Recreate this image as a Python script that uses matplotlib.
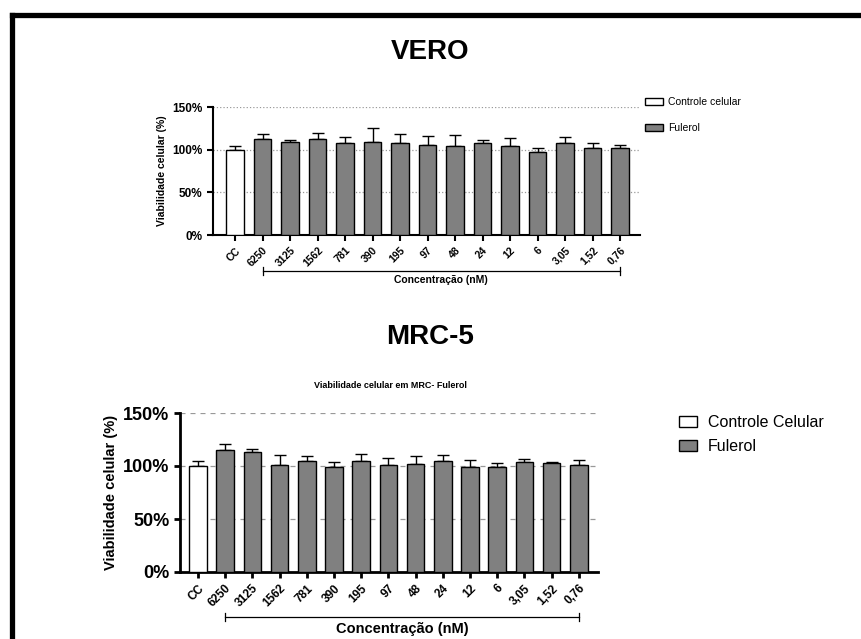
import matplotlib.pyplot as plt
from matplotlib.lines import Line2D
import numpy as np

plt.rcParams['font.family'] = ['Liberation Sans', 'DejaVu Sans']
plt.rcParams['font.weight'] = 'bold'

categorias = ['CC', '6250', '3125', '1562', '781', '390', '195', '97', '48',
              '24', '12', '6', '3,05', '1,52', '0,76']

# VERO - viabilidade (%) e desvio
vero_media = [100, 112.5, 108.5, 113, 107.5, 109, 107.5, 105.5, 104.5,
              107.5, 104, 97.5, 107.5, 101.5, 101.5]
vero_erro = [4, 6, 3, 7, 7, 16, 10.5, 10, 12.5, 4, 10, 4.5, 7.5, 6.5, 3.5]

# MRC-5 - viabilidade (%) e desvio
mrc_media = [100, 115.5, 113.5, 100.5, 104.5, 99.5, 104.5, 100.5, 101.5,
             104.5, 99.5, 99.5, 104, 102.5, 100.5]
mrc_erro = [5, 5, 2.5, 9.5, 5, 4, 7, 7.5, 8, 6, 6.5, 3.5, 3, 1, 5.5]

W, H = 861, 639


def px_axes(fig, x0, y0, x1, y1):
    # caixa em pixels (topo-esquerda) -> coordenadas da figura
    return fig.add_axes([x0 / W, 1 - y1 / H, (x1 - x0) / W, (y1 - y0) / H])


def painel(ax, media, erro, cc_px, passo_px, x0, x1, fs_y, fs_x, fs_lab, lw,
           grid_ls, leg_labels, leg_pos, leg_fs, leg_hl, leg_pad, leg_sp,
           bracket_y, label_y):
    x = np.arange(len(categorias))
    cores = ['white'] + ['#808080'] * (len(categorias) - 1)
    bars = ax.bar(x, media, width=0.64, color=cores, edgecolor='black',
                  linewidth=1.0, zorder=3)
    ax.errorbar(x, media, yerr=[np.zeros(len(erro)), erro], fmt='none',
                ecolor='black', elinewidth=1.0, capsize=4, capthick=1.0, zorder=2)
    ax.set_xlim((x0 - cc_px) / passo_px, (x1 - cc_px) / passo_px)
    ax.set_ylim(0, 150)
    ax.set_yticks([0, 50, 100, 150])
    ax.set_yticklabels(['0%', '50%', '100%', '150%'], fontsize=fs_y,
                       fontweight='bold')
    ax.set_xticks(x)
    ax.set_xticklabels(categorias, rotation=45, ha='right',
                       rotation_mode='anchor', fontsize=fs_x, fontweight='bold')
    for v in [50, 100, 150]:
        ax.axhline(v, color='#999999', lw=0.9, ls=grid_ls, zorder=1)
    for s in ['top', 'right']:
        ax.spines[s].set_visible(False)
    for s in ['left', 'bottom']:
        ax.spines[s].set_linewidth(lw)
    ax.tick_params(width=lw, length=4, direction='out')
    ax.set_ylabel('Viabilidade celular (%)', fontsize=fs_lab, fontweight='bold')
    ax.legend([bars[0], bars[1]], leg_labels, loc='upper left',
              bbox_to_anchor=(leg_pos[0] / W, 1 - leg_pos[1] / H),
              bbox_transform=ax.figure.transFigure, frameon=False,
              handlelength=leg_hl, handleheight=0.7,
              handletextpad=leg_pad, labelspacing=leg_sp, borderaxespad=0,
              borderpad=0, prop={'weight': 'normal', 'size': leg_fs})
    # colchete sob as concentracoes
    trans = ax.get_xaxis_transform()
    h = ax.get_position().height * H
    yb = -(bracket_y) / h
    d = 4 / h
    ax.add_line(Line2D([1, 14], [yb, yb], transform=trans, color='black',
                       lw=0.9, clip_on=False))
    for xx in [1, 14]:
        ax.add_line(Line2D([xx, xx], [yb - d, yb + d], transform=trans,
                           color='black', lw=0.9, clip_on=False))
    ax.text(7.5, -(label_y) / h, 'Concentração (nM)', transform=trans,
            ha='center', va='center', fontsize=fs_lab, fontweight='bold')


fig = plt.figure(figsize=(W / 100, H / 100), dpi=100)

ax1 = px_axes(fig, 213, 107, 640, 235)
painel(ax1, vero_media, vero_erro, 235, 27.5, 213, 640, 8.5, 7.5, 7.5, 1.5, ':',
       ['Controle celular', 'Fulerol'], (645, 97), 7.5, 1.7, 0.5, 1.55,
       36, 45)

ax2 = px_axes(fig, 180, 413, 598, 572)
painel(ax2, mrc_media, mrc_erro, 198, 27.2, 180, 598, 13, 8.5, 10.5, 2.0,
       (0, (4, 4)), ['Controle Celular', 'Fulerol'], (679, 415), 11.5, 1.1,
       0.7, 0.55, 45, 57)

fig.text(430 / W, 1 - 52 / H, 'VERO', ha='center', va='center', fontsize=20,
         fontweight='bold')
fig.text(430 / W, 1 - 337 / H, 'MRC-5', ha='center', va='center', fontsize=20,
         fontweight='bold')
fig.text(390 / W, 1 - 385 / H, 'Viabilidade celular em MRC- Fulerol',
         ha='center', va='center', fontsize=6.5, fontweight='bold')

# moldura preta (so esquerda e topo visiveis)
fig.add_artist(Line2D([11.5 / W, 11.5 / W], [0, 1 - 15 / H], color='black',
                      lw=3.8, solid_capstyle='projecting'))
fig.add_artist(Line2D([11.5 / W, 1], [1 - 15 / H, 1 - 15 / H], color='black',
                      lw=3.8, solid_capstyle='projecting'))

fig.savefig('out.png', dpi=100)
